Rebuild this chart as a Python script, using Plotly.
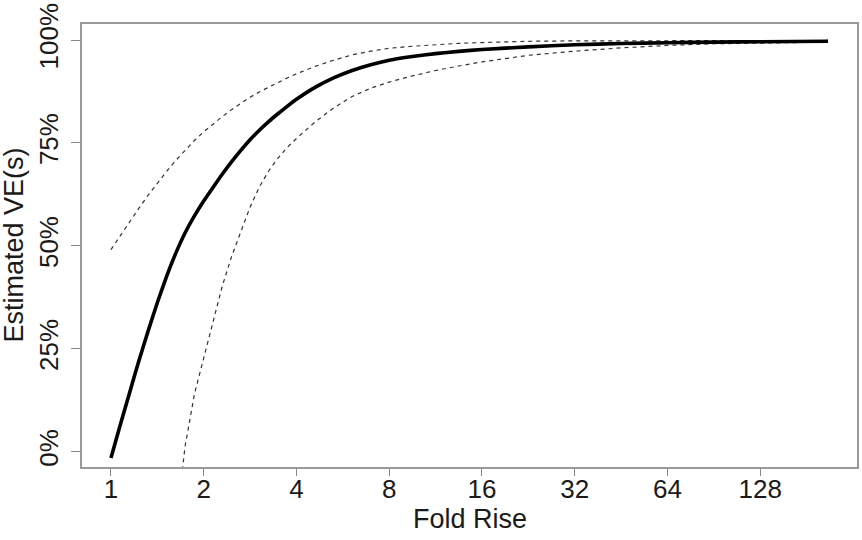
import math
import plotly.graph_objects as go

# Fold rise grid (log2 spaced)
fold_rise = [1, 1.072, 1.149, 1.231, 1.320, 1.414, 1.516, 1.625, 1.741, 1.866,
             2, 2.144, 2.297, 2.462, 2.639, 2.828, 3.031, 3.249, 3.482, 3.732,
             4, 4.595, 5.278, 6.063, 6.964, 8, 9.514, 11.31, 13.45, 16,
             22.63, 32, 45.25, 64, 90.51, 128, 212.3]

# Estimated VE(s), percent
ve_est = [-1.5, 6.5, 14.3, 22.0, 29.3, 36.2, 42.6, 48.3, 53.2, 57.3,
          60.9, 64.2, 67.4, 70.4, 73.2, 75.8, 78.1, 80.2, 82.1, 83.9,
          85.6, 88.5, 90.8, 92.6, 94.0, 95.1, 96.0, 96.7, 97.25, 97.7,
          98.35, 98.85, 99.15, 99.35, 99.5, 99.6, 99.7]

ve_upper = [49.1, 52.5, 55.8, 59.1, 62.3, 65.3, 68.1, 70.8, 73.3, 75.6,
            77.7, 79.6, 81.4, 83.1, 84.7, 86.1, 87.4, 88.6, 89.7, 90.8,
            91.8, 93.6, 95.1, 96.4, 97.3, 98.0, 98.5, 98.9, 99.2, 99.4,
            99.7, 99.8, 99.85, 99.9, 99.9, 99.9, 99.9]

ve_lower = [None, None, None, None, None, None, None, -18, 1.4, 14.0,
            22.9, 31.8, 40.2, 47.4, 53.6, 59.4, 64.3, 68.2, 71.3, 73.9,
            76.1, 80.1, 83.5, 86.3, 88.3, 89.8, 91.3, 92.6, 93.7, 94.7,
            96.3, 97.3, 98.1, 98.7, 99.1, 99.3, 99.5]

x_ticks = [1, 2, 4, 8, 16, 32, 64, 128]
x_tick_text = ["1", "2", "4", "8", "16", "32", "64", "128"]
y_ticks = [0, 25, 50, 75, 100]
y_tick_text = ["0%", "25%", "50%", "75%", "100%"]

FONT = "Liberation Sans, Arial, Helvetica, sans-serif"
TXT = "#1a1a1a"

fig = go.Figure()
fig.add_trace(go.Scatter(x=fold_rise, y=ve_upper, mode="lines",
                         line=dict(color="#333333", width=1.2, dash="4px,4px"),
                         connectgaps=False, hoverinfo="skip"))
fig.add_trace(go.Scatter(x=fold_rise, y=ve_lower, mode="lines",
                         line=dict(color="#333333", width=1.2, dash="4px,4px"),
                         connectgaps=False, hoverinfo="skip"))
fig.add_trace(go.Scatter(x=fold_rise, y=ve_est, mode="lines",
                         line=dict(color="black", width=3.6, shape="spline", smoothing=0.5),
                         hoverinfo="skip"))

xr = [math.log10(2 ** -0.312), math.log10(2 ** 8.043)]

fig.update_layout(
    width=862, height=540,
    margin=dict(l=82, r=3, t=23, b=73),
    paper_bgcolor="white", plot_bgcolor="white",
    showlegend=False,
    font=dict(family=FONT, size=26, color=TXT),
    xaxis=dict(type="log", range=xr, tickvals=x_ticks, ticktext=x_tick_text,
               ticks="outside", ticklen=7, tickwidth=1.2, tickcolor="#888888",
               ticklabelstandoff=-9,
               showgrid=False, zeroline=False,
               showline=True, linecolor="#999999", linewidth=1.5, mirror=True,
               tickfont=dict(size=26, family=FONT, color=TXT)),
    yaxis=dict(range=[-3.7, 103.9], tickvals=y_ticks, ticktext=y_tick_text,
               ticks="outside", ticklen=9, tickwidth=1.2, tickcolor="#888888",
               tickangle=-90, ticklabelstandoff=3,
               showgrid=False, zeroline=False,
               showline=True, linecolor="#999999", linewidth=1.5, mirror=True,
               tickfont=dict(size=26, family=FONT, color=TXT)),
)

fig.add_annotation(text="Fold Rise", xref="paper", yref="paper",
                   x=0.5, y=0, yanchor="top", yshift=-35, showarrow=False,
                   font=dict(size=27, family=FONT, color=TXT))
fig.add_annotation(text="Estimated VE(s)", xref="paper", yref="paper",
                   x=0, y=0.5, xanchor="right", xshift=-52, textangle=-90,
                   showarrow=False,
                   font=dict(size=27, family=FONT, color=TXT))

fig.write_html("out.html")
